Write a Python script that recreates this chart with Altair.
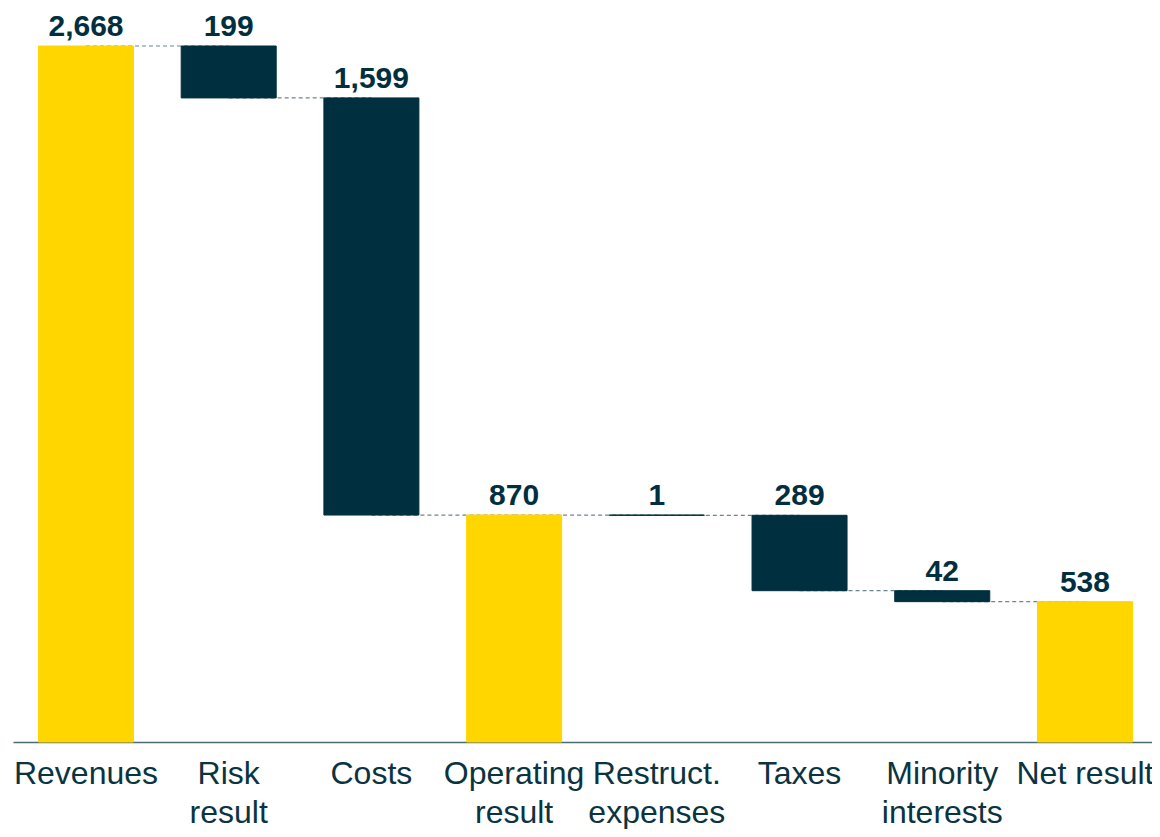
import altair as alt
import pandas as pd

categories = ["Revenues", "Risk\nresult", "Costs", "Operating\nresult",
              "Restruct.\nexpenses", "Taxes", "Minority\ninterests", "Net result"]
amounts = [2668, 199, 1599, 870, 1, 289, 42, 538]
kinds = ["total", "decrease", "decrease", "total", "decrease", "decrease", "decrease", "total"]

YELLOW = "#FFD600"
NAVY = "#002F3F"

rows = []
running = 0
for cat, amt, kind in zip(categories, amounts, kinds):
    if kind == "total":
        start, end = 0, amt
        running = amt
    else:
        start, end = running, running - amt
        running = end
    rows.append({"cat": cat, "amount": amt, "kind": kind, "start": start, "end": end,
                 "top": max(start, end), "level": running})
df = pd.DataFrame(rows)

conn_rows = []
for i in range(len(categories) - 1):
    conn_rows.append({"cat": categories[i], "level": rows[i]["level"], "seg": i})
    conn_rows.append({"cat": categories[i + 1], "level": rows[i]["level"], "seg": i})
conn = pd.DataFrame(conn_rows)

xscale = alt.Scale(domain=categories, paddingInner=0.3343, paddingOuter=0.1577, align=0.566)
yscale = alt.Scale(domain=[0, 2668], nice=False, zero=True)

xaxis = alt.Axis(labelAngle=0, labelExpr="split(datum.label, '\\n')",
                 labelFont="Liberation Sans", labelFontSize=32,
                 labelColor="#0B3340", labelLineHeight=39,
                 labelPadding=16, ticks=False, domainColor="#4D6B75",
                 domainWidth=1.5, labelBaseline="top", labelLimit=300)

connectors = alt.Chart(conn).mark_line(color="#6F858E", strokeWidth=1.2, strokeDash=[4, 3]).encode(
    x=alt.X("cat:N", scale=xscale, sort=categories, title=None, axis=xaxis),
    y=alt.Y("level:Q", scale=yscale, axis=None),
    detail="seg:N",
)

base = alt.Chart(df)

totals = base.transform_filter(alt.datum.kind == "total").mark_bar(
    color=YELLOW, stroke=YELLOW, strokeWidth=1).encode(
    x=alt.X("cat:N", scale=xscale, sort=categories),
    y=alt.Y("start:Q", scale=yscale),
    y2="end:Q",
)

decreases = base.transform_filter(alt.datum.kind == "decrease").mark_bar(
    color=NAVY, stroke=NAVY, strokeWidth=1).encode(
    x=alt.X("cat:N", scale=xscale, sort=categories),
    y=alt.Y("start:Q", scale=yscale),
    y2="end:Q",
)

labels = base.mark_text(font="Liberation Sans", fontSize=30, fontWeight="bold",
                        color="#012F3F", baseline="alphabetic", dy=-10).encode(
    x=alt.X("cat:N", scale=xscale, sort=categories),
    y=alt.Y("top:Q", scale=yscale),
    text=alt.Text("amount:Q", format=","),
)

chart = alt.layer(connectors, totals, decreases, labels).properties(
    width=1139, height=696,
    autosize=alt.AutoSizeParams(type="none"),
    padding={"left": 5, "top": 38, "right": 0, "bottom": 87},
).configure_view(stroke=None)

chart.save("out.html", embed_options={"renderer": "svg", "actions": False})
